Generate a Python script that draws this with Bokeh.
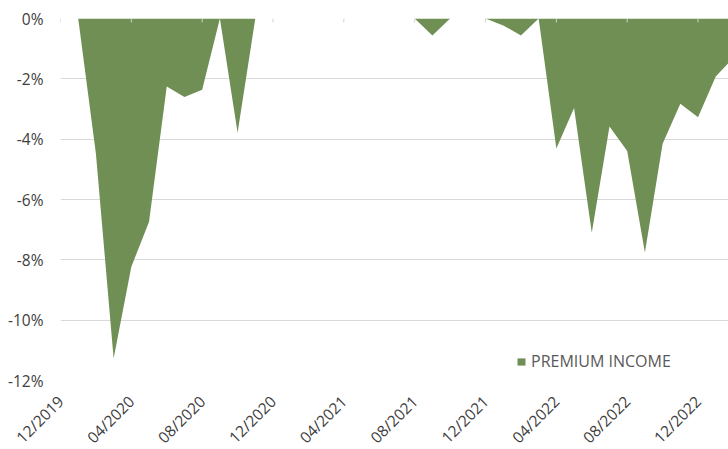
import math
from bokeh.plotting import figure
from bokeh.models import FixedTicker, PrintfTickFormatter, Range1d
from bokeh.embed import file_html
from bokeh.resources import INLINE

# Month labels (12/2019 .. 02/2023), uniform monthly spacing
months = ["12/2019",
          "01/2020", "02/2020", "03/2020", "04/2020", "05/2020", "06/2020",
          "07/2020", "08/2020", "09/2020", "10/2020", "11/2020", "12/2020",
          "01/2021", "02/2021", "03/2021", "04/2021", "05/2021", "06/2021",
          "07/2021", "08/2021", "09/2021", "10/2021", "11/2021", "12/2021",
          "01/2022", "02/2022", "03/2022", "04/2022", "05/2022", "06/2022",
          "07/2022", "08/2022", "09/2022", "10/2022", "11/2022", "12/2022",
          "01/2023", "02/2023"]

# Drawdown (%) of premium income strategy
drawdown = [0.0,
            0.0, -4.48, -11.27, -8.23, -6.74, -2.25,
            -2.60, -2.36, 0.0, -3.79, 0.0, 0.0,
            0.0, 0.0, 0.0, 0.0, 0.0, 0.0,
            0.0, 0.0, -0.56, 0.0, 0.0, 0.0,
            -0.23, -0.56, 0.0, -4.31, -2.97, -7.10,
            -3.58, -4.39, -7.76, -4.15, -2.83, -3.27,
            -1.92, -1.30]

tick_labels = ["12/2019", "04/2020", "08/2020", "12/2020", "04/2021",
               "08/2021", "12/2021", "04/2022", "08/2022", "12/2022"]
y_ticks = [0, -2, -4, -6, -8, -10, -12]

series_name = "PREMIUM INCOME"
green = "#708f55"
FONT = "Open Sans"

x = list(range(len(months)))
tick_pos = [months.index(t) for t in tick_labels]

p = figure(frame_width=668, frame_height=362, output_backend="svg",
           toolbar_location=None,
           x_range=Range1d(0, 37.72), y_range=Range1d(-12, 0),
           min_border_left=60, min_border_right=0, min_border_top=18,
           min_border_bottom=10)
p.outline_line_color = None
p.background_fill_color = "white"
p.border_fill_color = "white"

p.varea(x=x, y1=[0] * len(x), y2=drawdown, fill_color=green,
        legend_label=series_name)

# small tick marks on the zero line
p.segment(x0=tick_pos, x1=tick_pos, y0=[0] * len(tick_pos),
          y1=[-0.13] * len(tick_pos), line_color="#d0d0d0", line_width=1)

# axes
p.xaxis.ticker = FixedTicker(ticks=tick_pos)
p.xaxis.major_label_overrides = {pos: lab for pos, lab in zip(tick_pos, tick_labels)}
p.xaxis.major_label_orientation = math.pi / 4
p.xaxis.axis_line_color = None
p.xaxis.major_tick_line_color = None
p.xaxis.minor_tick_line_color = None
p.xaxis.major_label_text_font = FONT
p.xaxis.major_label_text_font_size = "15.5px"
p.xaxis.major_label_text_color = "#404040"
p.xaxis.major_label_standoff = 12

p.yaxis.ticker = FixedTicker(ticks=y_ticks)
p.yaxis.formatter = PrintfTickFormatter(format="%d%%")
p.yaxis.axis_line_color = None
p.yaxis.major_tick_line_color = None
p.yaxis.minor_tick_line_color = None
p.yaxis.major_label_text_font = FONT
p.yaxis.major_label_text_font_size = "15.5px"
p.yaxis.major_label_text_color = "#404040"
p.yaxis.major_label_standoff = 11

p.xgrid.grid_line_color = None
p.ygrid.ticker = FixedTicker(ticks=y_ticks)
p.ygrid.grid_line_color = "#d9d9d9"
p.ygrid.grid_line_width = 1
p.ygrid.level = "underlay"

# legend
lg = p.legend[0]
lg.location = (456, 8)
lg.border_line_color = None
lg.background_fill_alpha = 0
lg.label_text_font = FONT
lg.label_text_font_size = "16px"
lg.label_text_color = "#595959"
lg.glyph_width = 10
lg.glyph_height = 9
lg.label_standoff = 5
lg.padding = 4
lg.margin = 0

open("out.html", "w").write(file_html(p, INLINE))
